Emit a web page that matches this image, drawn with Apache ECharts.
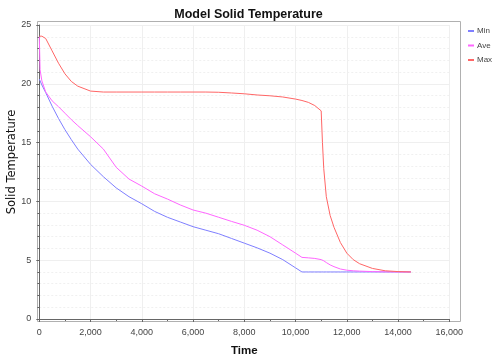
<!DOCTYPE html>
<html>
<head>
<meta charset="utf-8">
<script src="https://cdn.jsdelivr.net/npm/echarts@6/dist/echarts.min.js"></script>
<style>html,body{margin:0;padding:0;background:#fff;}#c{width:497px;height:360px;}</style>
</head>
<body>
<div id="c"></div>
<script>
const time = [0,30,100,250,500,750,1000,1250,1500,2000,2500,3000,3500,4000,4500,5000,5500,6000,6500,7000,7500,8000,8500,9000,9500,10000,10250,10500,10750,11000,11050,11100,11200,11350,11500,11750,12000,12250,12500,13000,13500,14000,14500];
const minTemp = [20.4,20.3,19.9,19.25,18.1,17.05,16.1,15.25,14.45,13.15,12.1,11.15,10.4,9.8,9.15,8.65,8.25,7.85,7.55,7.25,6.85,6.45,6.05,5.6,5.05,4.35,4.0,4.0,4.0,4.0,4.0,4.0,4.0,4.0,4.0,4.0,4.0,4.0,4.0,4.0,4.0,4.0,4.0];
const aveTemp = [24.0,21.2,20.25,19.3,18.55,18.05,17.5,16.95,16.45,15.5,14.45,12.9,11.9,11.3,10.65,10.2,9.7,9.27,9.0,8.65,8.3,7.97,7.55,7.0,6.3,5.6,5.24,5.2,5.15,5.05,5.0,4.95,4.8,4.6,4.45,4.25,4.15,4.1,4.07,4.03,4.01,4.0,4.0];
const maxTemp = [24.05,24.05,24.05,23.85,22.8,21.75,20.85,20.2,19.8,19.38,19.3,19.3,19.3,19.3,19.3,19.3,19.3,19.3,19.3,19.28,19.22,19.15,19.05,18.98,18.88,18.7,18.58,18.42,18.15,17.7,15.0,12.8,10.4,8.8,7.8,6.5,5.6,5.05,4.7,4.3,4.1,4.03,4.0];
const seriesNames = ['Min','Ave','Max'];
const seriesColors = ['#7f7fff','#ff66ff','#ff6666'];
const xTicks = {min:0, max:16000, interval:2000};
const yTicks = {min:0, max:25, interval:5};

const chart = echarts.init(document.getElementById('c'), null, {renderer:'canvas'});
const values = [minTemp, aveTemp, maxTemp];
const lab = {color:'#444', fontFamily:'Liberation Sans', fontSize:9};
chart.setOption({
  animation:false,
  backgroundColor:'#fff',
  title:{text:'Model Solid Temperature', left:'center', top:3,
    textStyle:{fontFamily:'Liberation Sans', fontWeight:'bold', fontSize:12.5, color:'#111'}},
  legend:{orient:'vertical', left:463, top:21, itemWidth:6, itemHeight:2, itemGap:4.5, icon:'rect',
    textStyle:{fontFamily:'Liberation Sans', fontSize:8, color:'#444', lineHeight:10, padding:[0,0,0,-2]},
    data:seriesNames},
  grid:{left:39.3, right:47.7, top:25, bottom:41, containLabel:false, outerBoundsMode:'none'},
  graphic:[{type:'rect', shape:{x:37.5, y:21.5, width:423, height:300}, style:{fill:'none', stroke:'#b0b0b0', lineWidth:1}, z:-1}],
  xAxis:{type:'value', min:xTicks.min, max:xTicks.max, interval:xTicks.interval, offset:5,
    name:'Time', nameLocation:'middle', nameGap:21, nameMoveOverlap:false,
    nameTextStyle:{fontFamily:'Liberation Sans', fontWeight:'bold', fontSize:11.5, color:'#111'},
    axisLine:{show:true, lineStyle:{color:'#666'}},
    axisTick:{show:true, length:3, lineStyle:{color:'#666'}},
    minorTick:{show:true, splitNumber:2, length:2, lineStyle:{color:'#666'}},
    axisLabel:Object.assign({margin:4, formatter:v=>v.toLocaleString('en-US')}, lab),
    splitLine:{show:true, lineStyle:{color:'#efefef'}}},
  yAxis:{type:'value', min:yTicks.min, max:yTicks.max, interval:yTicks.interval, offset:4,
    name:'Solid Temperature', nameLocation:'middle', nameGap:17, nameMoveOverlap:false,
    nameTextStyle:{fontFamily:'DejaVu Sans', fontSize:11.5, color:'#111', padding:[0,0,0,20]},
    axisLine:{show:true, lineStyle:{color:'#666'}},
    axisTick:{show:true, length:3, lineStyle:{color:'#666'}},
    minorTick:{show:true, splitNumber:5, length:2, lineStyle:{color:'#666'}},
    axisLabel:Object.assign({margin:4}, lab),
    splitLine:{show:true, lineStyle:{color:'#efefef'}},
    minorSplitLine:{show:true, lineStyle:{color:'#f0f0f0', type:[2,2]}}},
  series: seriesNames.map((n,k)=>({
    name:n, type:'line', showSymbol:false, symbol:'none',
    data: time.map((t,i)=>[t, values[k][i]]),
    lineStyle:{width:1, color:seriesColors[k]}, itemStyle:{color:seriesColors[k]}
  }))
});
</script>
</body>
</html>
